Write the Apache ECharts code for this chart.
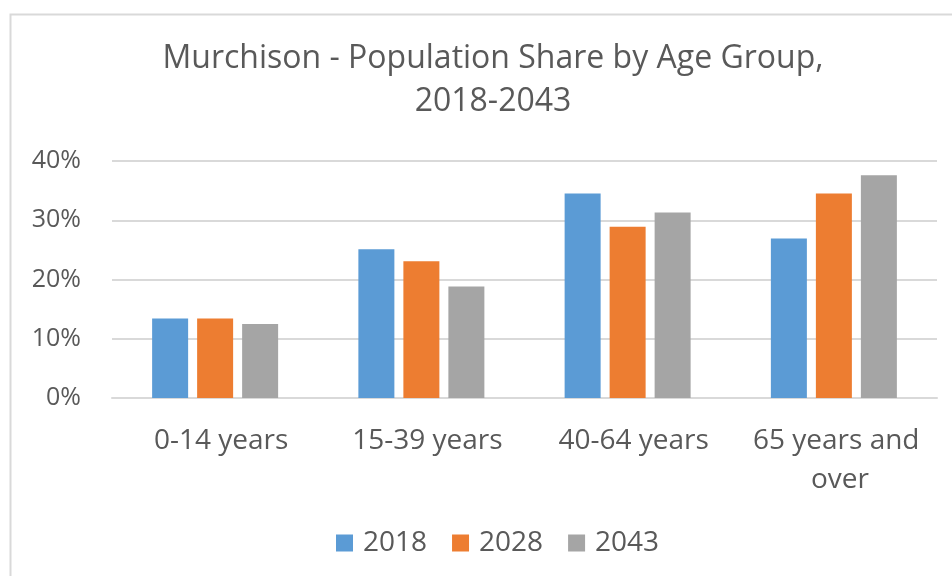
<!DOCTYPE html>
<html>
<head>
<meta charset="utf-8">
<script src="https://cdn.jsdelivr.net/npm/echarts@6/dist/echarts.min.js"></script>
<style>html,body{margin:0;padding:0;background:#fff;}#c{width:952px;height:576px;}</style>
</head>
<body>
<div id="c"></div>
<script>
const categories = ['0-14 years', '15-39 years', '40-64 years', '65 years and over'];
const seriesNames = ['2018', '2028', '2043'];
const values2018 = [13.4, 25.1, 34.5, 26.9];
const values2028 = [13.4, 23.1, 28.9, 34.5];
const values2043 = [12.5, 18.8, 31.3, 37.6];
const yTicks = [0, 10, 20, 30, 40];
const colors = ['#5B9BD5', '#ED7D31', '#A5A5A5'];

const font = '"Open Sans", "DejaVu Sans", sans-serif';
const textColor = '#595959';
const allValues = [values2018, values2028, values2043];

const chart = echarts.init(document.getElementById('c'), null, {renderer: 'canvas'});
chart.setOption({
  backgroundColor: '#fff',
  animation: false,
  color: colors,
  graphic: [{
    type: 'rect', left: 8, top: 12, z: -1, silent: true,
    shape: {width: 1000, height: 1000},
    style: {fill: 'none', stroke: '#D9D9D9', lineWidth: 2}
  }],
  title: {
    text: 'Murchison - Population Share by Age Group,\n2018-2043',
    left: 488, top: 32, textAlign: 'center',
    textStyle: {fontFamily: font, fontSize: 32, fontWeight: 'normal', color: textColor, lineHeight: 43}
  },
  legend: {
    data: seriesNames,
    bottom: 14, left: 331,
    itemWidth: 17, itemHeight: 17, itemGap: 25,
    icon: 'rect',
    textStyle: {fontFamily: font, fontSize: 28, color: textColor, padding: [0, 0, 0, 5]}
  },
  grid: {left: 112, right: 15, top: 161, bottom: 178, containLabel: false},
  xAxis: {
    type: 'category', data: categories,
    axisLine: {show: true, lineStyle: {color: '#D9D9D9', width: 2}},
    axisTick: {show: false},
    axisLabel: {fontFamily: font, fontSize: 28, color: textColor, margin: 24, lineHeight: 39,
      width: 190, overflow: 'break', interval: 0, padding: [0, 0, 0, 12]}
  },
  yAxis: {
    type: 'value', min: yTicks[0], max: yTicks[yTicks.length - 1], interval: 10,
    axisLine: {show: false}, axisTick: {show: false},
    splitLine: {lineStyle: {color: '#D9D9D9', width: 2}},
    axisLabel: {fontFamily: font, fontSize: 25, color: textColor, margin: 31,
      formatter: v => v + '%'}
  },
  series: seriesNames.map((name, i) => ({
    name: name, type: 'bar', data: allValues[i],
    barWidth: 36, barGap: '25%',
    itemStyle: {color: colors[i]}
  }))
});
</script>
</body>
</html>
